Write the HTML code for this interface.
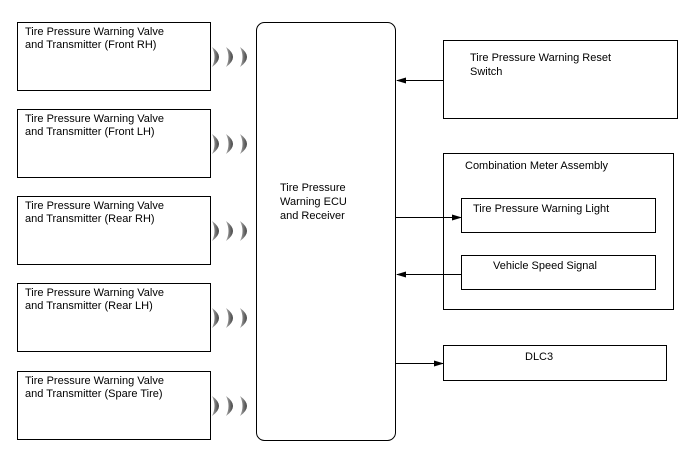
<!DOCTYPE html>
<html><head><style>
body{margin:0;background:#fff;}
svg text{font-family:"Liberation Sans",Arial,sans-serif;font-size:11px;fill:#000;}
</style></head><body>
<svg width="688" height="463" viewBox="0 0 688 463" xmlns="http://www.w3.org/2000/svg">
<defs>
<linearGradient id="g" x1="0" x2="1"><stop offset="0" stop-color="#aaa"/><stop offset="1" stop-color="#444"/></linearGradient>
<g id="c">
<path d="M-1,-10 Q13,0 -1,10 Q4,0 -1,-10Z" fill="url(#g)"/>
</g>
<g id="cc"><use href="#c" x="213"/><use href="#c" x="227"/><use href="#c" x="241"/></g>
<marker id="a" markerWidth="10" markerHeight="8" refX="9" refY="4" orient="auto" markerUnits="userSpaceOnUse"><path d="M0,1 L10,4 L0,7Z" fill="#000"/></marker>
</defs>
<g fill="none" stroke="#000" stroke-width="1">
<rect x="17.5" y="22.5" width="193" height="68"/>
<rect x="17.5" y="109.5" width="193" height="68"/>
<rect x="17.5" y="196.5" width="193" height="68"/>
<rect x="17.5" y="283.5" width="193" height="68"/>
<rect x="17.5" y="371.5" width="193" height="68"/>
<rect x="256.5" y="22.5" width="139" height="418" rx="8"/>
<rect x="443.5" y="40.5" width="234" height="78"/>
<rect x="443.5" y="153.5" width="230" height="156"/>
<rect x="461.5" y="198.5" width="194" height="34"/>
<rect x="461.5" y="255.5" width="194" height="34"/>
<rect x="443.5" y="345.5" width="223" height="35"/>
<line x1="443" y1="80.5" x2="397" y2="80.5" marker-end="url(#a)"/>
<line x1="396" y1="217.5" x2="461" y2="217.5" marker-end="url(#a)"/>
<line x1="461" y1="274.5" x2="397" y2="274.5" marker-end="url(#a)"/>
<line x1="396" y1="363.5" x2="443" y2="363.5" marker-end="url(#a)"/>
</g>
<use href="#cc" y="57"/><use href="#cc" y="144"/><use href="#cc" y="231"/><use href="#cc" y="318"/><use href="#cc" y="406"/>
<text x="25" y="35">Tire Pressure Warning Valve</text><text x="25" y="48">and Transmitter (Front RH)</text>
<text x="25" y="122">Tire Pressure Warning Valve</text><text x="25" y="135">and Transmitter (Front LH)</text>
<text x="25" y="209">Tire Pressure Warning Valve</text><text x="25" y="222">and Transmitter (Rear RH)</text>
<text x="25" y="296">Tire Pressure Warning Valve</text><text x="25" y="309">and Transmitter (Rear LH)</text>
<text x="25" y="384">Tire Pressure Warning Valve</text><text x="25" y="397">and Transmitter (Spare Tire)</text>
<text x="280" y="191">Tire Pressure</text><text x="280" y="205">Warning ECU</text><text x="280" y="219">and Receiver</text>
<text x="470" y="61">Tire Pressure Warning Reset</text><text x="470" y="75">Switch</text>
<text x="465" y="169">Combination Meter Assembly</text>
<text x="473" y="212">Tire Pressure Warning Light</text>
<text x="493" y="269">Vehicle Speed Signal</text>
<text x="525" y="360">DLC3</text>
</svg>
</body></html>
